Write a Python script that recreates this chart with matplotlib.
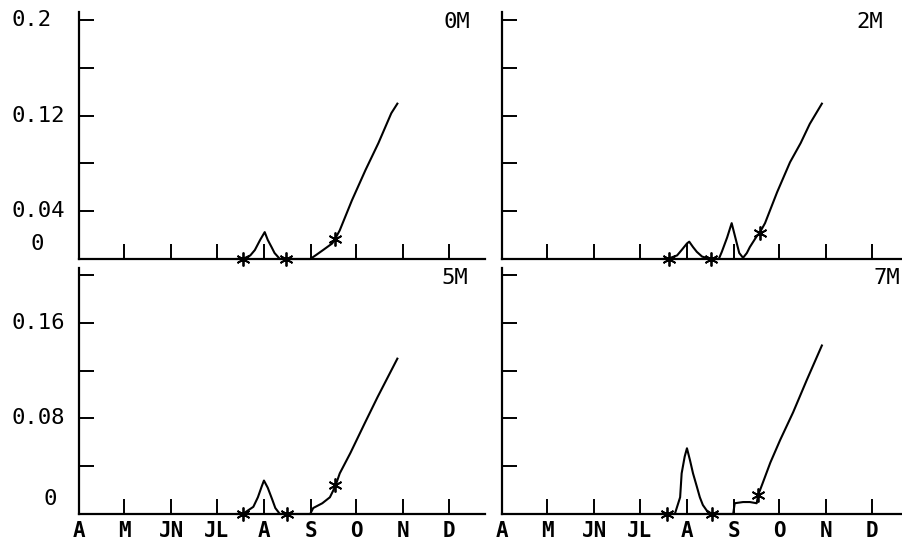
import matplotlib
matplotlib.use('Agg')
import matplotlib.pyplot as plt
import matplotlib.transforms as mtransforms
from matplotlib import font_manager

# --- dot-matrix printout: 4 panels (0M, 2M, 5M, 7M), Apr -> Dec, day of year on x ---

MONTH_DAYS = [91, 121, 152, 182, 213, 244, 274, 305, 335]
MONTH_LABELS = ['A', 'M', 'JN', 'JL', 'A', 'S', 'O', 'N', 'D']
Y_TICKS = [0, 0.04, 0.08, 0.12, 0.16, 0.2]
PANEL_LABELS = ['0M', '2M', '5M', '7M']

# y labels printed on the left panels only
top_ylabels = ['0.2', '0.12', '0.04', '0']
top_ylabel_vals = [0.2, 0.12, 0.04, 0]
bottom_ylabels = ['0.16', '0.08', '0']
bottom_ylabel_vals = [0.16, 0.08, 0]

# curves (day of year, value)
days_0m = [195, 199, 204, 207, 210.5, 213.5, 215.5, 218, 220, 223.5, 227.5, 243.5,
           247, 252, 258, 260, 263, 271, 280, 288.5, 297, 301]
vals_0m = [0, 0, 0.003, 0.0075, 0.016, 0.0225, 0.016, 0.010, 0.005, 0, 0, 0,
           0.003, 0.0075, 0.013, 0.017, 0.024, 0.049, 0.0745, 0.097, 0.122, 0.130]

days_2m = [197, 200, 206.5, 209.5, 213, 214.5, 217, 219.5, 223, 229, 234, 236,
           239.5, 242.5, 245.5, 247.5, 250, 252.5, 254.5, 259, 261, 264.5,
           272.5, 281, 288, 294, 302]
vals_2m = [0, 0, 0.003, 0.0075, 0.013, 0.0145, 0.010, 0.006, 0.002, 0, 0, 0.006,
           0.018, 0.030, 0.015, 0.005, 0.001, 0.005, 0.010, 0.019, 0.022, 0.030,
           0.056, 0.081, 0.097, 0.113, 0.130]

days_5m = [195, 199, 206, 209, 211.5, 213, 215.5, 218.5, 220.5, 223.5, 228, 243.5,
           245.5, 251.5, 256.5, 260, 263, 270, 279.5, 288, 301]
vals_5m = [0, 0, 0.006, 0.014, 0.023, 0.028, 0.022, 0.012, 0.005, 0, 0, 0,
           0.005, 0.009, 0.014, 0.023, 0.034, 0.051, 0.076, 0.098, 0.130]

days_7m = [196, 200, 205, 208.5, 209.5, 211.5, 213, 215, 217, 219.5, 221.5, 223.5,
           226, 229.5, 243.5, 244.5, 250, 254.5, 259, 260, 263, 268, 274.5, 283,
           292, 302]
vals_7m = [0, 0, 0, 0.014, 0.034, 0.048, 0.055, 0.045, 0.034, 0.023, 0.014, 0.0075,
           0.003, 0, 0, 0.009, 0.010, 0.010, 0.009, 0.016, 0.026, 0.043, 0.062, 0.085,
           0.112, 0.141]

# asterisk marks on each curve
mark_days = [[199, 227.5, 260], [201, 229, 261], [199, 228, 260], [200, 229.5, 260]]
mark_vals = [[0, 0, 0.017], [0, 0, 0.022], [0, 0, 0.024], [0, 0, 0.016]]

series_days = [days_0m, days_2m, days_5m, days_7m]
series_vals = [vals_0m, vals_2m, vals_5m, vals_7m]

# --- fonts: narrow face for month letters if there is one ---
installed = {f.name for f in font_manager.fontManager.ttflist}
mono = 'DejaVu Sans Mono'
narrow = 'Liberation Sans Narrow' if 'Liberation Sans Narrow' in installed else mono
plt.rcParams['font.family'] = mono

W, H = 903, 542
fig = plt.figure(figsize=(W / 100, H / 100), dpi=100)
fig.patch.set_facecolor('white')

# panel boxes in pixels: (left, right, top, baseline)
boxes = [(79, 485, 12, 259), (502, 903, 12, 259),
         (79, 485, 268, 514), (502, 903, 268, 514)]
px_per_day = 1.516
px_per_unit = 1195.0
label_x = [0.963, 0.95, 0.958, 0.993]

for i, (l, r, t, b) in enumerate(boxes):
    ax = fig.add_axes([l / W, (H - b) / H, (r - l) / W, (b - t) / H])
    ax.set_xlim(91, 91 + (r - l) / px_per_day)
    ax.set_ylim(0, (b - t) / px_per_unit)

    ax.plot(series_days[i], series_vals[i], color='black', lw=1.5, clip_on=False)
    ax.plot(mark_days[i], mark_vals[i], ls='none', marker=(6, 2, 0), ms=10,
            mew=1.3, color='black', clip_on=False)

    for side in ['top', 'right']:
        ax.spines[side].set_visible(False)
    for side in ['left', 'bottom']:
        ax.spines[side].set_linewidth(1.6)

    ax.set_xticks(MONTH_DAYS)
    ax.set_yticks(Y_TICKS)
    ax.tick_params(direction='in', length=11, width=1.4)
    ax.set_yticklabels([])
    if i >= 2:
        ax.set_xticklabels(MONTH_LABELS, fontsize=15, family=narrow,
                           fontweight='bold')
        ax.tick_params(axis='x', pad=5)
    else:
        ax.set_xticklabels([])

    ax.text(label_x[i], 1.0, PANEL_LABELS[i], transform=ax.transAxes,
            ha='right', va='top', fontsize=16)

    # y labels, left column only
    if i % 2 == 0:
        labels = top_ylabels if i == 0 else bottom_ylabels
        vals = top_ylabel_vals if i == 0 else bottom_ylabel_vals
        trans = mtransforms.blended_transform_factory(fig.transFigure, ax.transData)
        for lab, v in zip(labels, vals):
            if lab == '0':
                zx = 37 if i == 0 else 50
                ax.text(zx / W, v + 15 / px_per_unit, lab, transform=trans,
                        ha='center', va='center', fontsize=16)
            else:
                ax.text(12 / W, v, lab, transform=trans, ha='left',
                        va='center', fontsize=16)

plt.savefig('out.png', dpi=100)
